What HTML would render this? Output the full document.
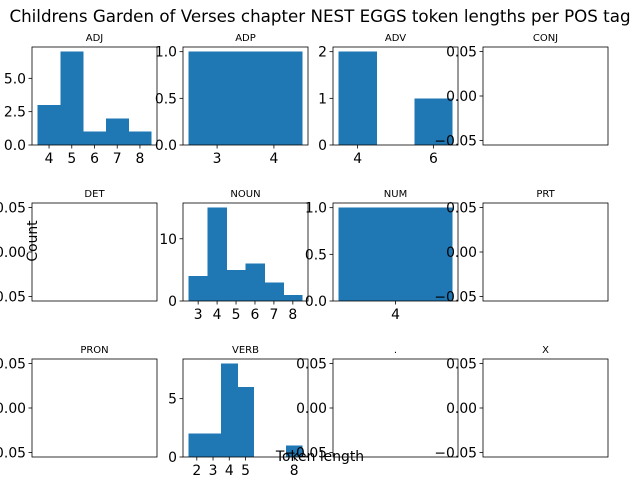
<!DOCTYPE html>
<html><head><meta charset="utf-8"><style>
body{margin:0;background:#fff;}
svg{display:block;font-family:"DejaVu Sans","Liberation Sans",sans-serif;}
</style></head><body>
<svg id="chart" width="640" height="480" viewBox="0 0 640 480">
<rect width="640" height="480" fill="#fff"/>
<text x="320" y="22" text-anchor="middle" font-size="16.7">Childrens Garden of Verses chapter NEST EGGS token lengths per POS tag</text>
</svg>
<script>
const tags = ["ADJ","ADP","ADV","CONJ","DET","NOUN","NUM","PRT","PRON","VERB",".","X"];
const adjEdges = [3.5,4.5,5.5,6.5,7.5];
const adjCounts = [3,7,1,2,1];
const adpEdges = [2.5];
const adpCounts = [1];
const adpWidths = [2];
const advEdges = [3.5,5.5];
const advCounts = [2,1];
const nounEdges = [2.5,3.5,4.5,5.5,6.5,7.5];
const nounCounts = [4,15,5,6,3,1];
const numEdges = [3.5];
const numCounts = [1];
const verbEdges = [1.5,2.5,3.5,4.5,7.5];
const verbCounts = [2,2,8,6,1];
const adjXTicks = [4,5,6,7,8], adjYTicks = [0,2.5,5], adjYLabels = ["0.0","2.5","5.0"];
const adpXTicks = [3,4], adpYTicks = [0,0.5,1], adpYLabels = ["0.0","0.5","1.0"];
const advXTicks = [4,6], advYTicks = [0,1,2], advYLabels = ["0","1","2"];
const nounXTicks = [3,4,5,6,7,8], nounYTicks = [0,10], nounYLabels = ["0","10"];
const numXTicks = [4], numYTicks = [0,0.5,1], numYLabels = ["0.0","0.5","1.0"];
const verbXTicks = [2,3,4,5,8], verbYTicks = [0,5], verbYLabels = ["0","5"];
const emptyYTicks = [-0.05,0,0.05], emptyYLabels = ["\u22120.05","0.00","0.05"];

const svg = document.getElementById('chart');
const NS = 'http://www.w3.org/2000/svg';
function el(tag, attrs, parent){const e=document.createElementNS(NS,tag);for(const k in attrs)e.setAttribute(k,attrs[k]);(parent||svg).appendChild(e);return e;}

const colX=[32,183,333,483], rowY=[47,203,359], W=125, H=98;
const hist = {
 ADJ:{edges:adjEdges,counts:adjCounts,xt:adjXTicks,yt:adjYTicks,yl:adjYLabels},
 ADP:{edges:adpEdges,counts:adpCounts,widths:adpWidths,xt:adpXTicks,yt:adpYTicks,yl:adpYLabels},
 ADV:{edges:advEdges,counts:advCounts,xt:advXTicks,yt:advYTicks,yl:advYLabels},
 NOUN:{edges:nounEdges,counts:nounCounts,xt:nounXTicks,yt:nounYTicks,yl:nounYLabels},
 NUM:{edges:numEdges,counts:numCounts,xt:numXTicks,yt:numYTicks,yl:numYLabels},
 VERB:{edges:verbEdges,counts:verbCounts,xt:verbXTicks,yt:verbYTicks,yl:verbYLabels}
};
tags.forEach((tag,i)=>{
  const x0=colX[i%4], y0=rowY[Math.floor(i/4)];
  const g=el('g',{});
  
  
  el('rect',{x:x0,y:y0,width:W,height:H,fill:'#fff'},g);
  const t=el('text',{x:x0+W/2,y:y0-6,'text-anchor':'middle','font-size':'10'},g);
  t.textContent=tag;
  
  
  const h=hist[tag];
  let sx, sy, yt, yl;
  if(h){
    const widths=h.widths||h.edges.map(()=>1);
    const lo=Math.min(...h.edges), hi=Math.max(...h.edges.map((e,k)=>e+widths[k]));
    const pad=(hi-lo)*0.05, ymax=Math.max(...h.counts)*1.05;
    sx=v=>x0+(v-lo+pad)/(hi-lo+2*pad)*W;
    sy=v=>y0+H-v/ymax*H;
    h.edges.forEach((e,k)=>{
      const b=el('rect',{x:sx(e),y:sy(h.counts[k]),width:sx(e+widths[k])-sx(e)+0.4,height:sy(0)-sy(h.counts[k]),fill:'#1f77b4','shape-rendering':'crispEdges'},g);
      
      
    });
    h.xt.forEach(v=>{
      el('line',{x1:sx(v),x2:sx(v),y1:y0+H,y2:y0+H+3.5,stroke:'#000','stroke-width':0.8},g);
      const tx=el('text',{x:sx(v),y:y0+H+18,'text-anchor':'middle','font-size':'13.9'},g);
      tx.textContent=String(v);
      
      
    });
    yt=h.yt; yl=h.yl;
  } else {
    sy=v=>y0+H-(v+0.055)/0.11*H;
    yt=emptyYTicks; yl=emptyYLabels;
  }
  yt.forEach((v,k)=>{
    el('line',{x1:x0-3.5,x2:x0,y1:sy(v),y2:sy(v),stroke:'#000','stroke-width':0.8},g);
    const ty=el('text',{x:x0-6,y:sy(v)+5,'text-anchor':'end','font-size':'13.9'},g);
    ty.textContent=yl[k];
    
    
  });
  el('rect',{x:x0,y:y0,width:W,height:H,fill:'none',stroke:'#000','stroke-width':0.8},g);
});
const xl=el('text',{x:320,y:461,'text-anchor':'middle','font-size':'13.9'});
xl.textContent='Token length';


const yl2=el('text',{x:0,y:0,'text-anchor':'middle','font-size':'13.9',transform:'translate(37,241) rotate(-90)'});
yl2.textContent='Count';


</script>
</body></html>
